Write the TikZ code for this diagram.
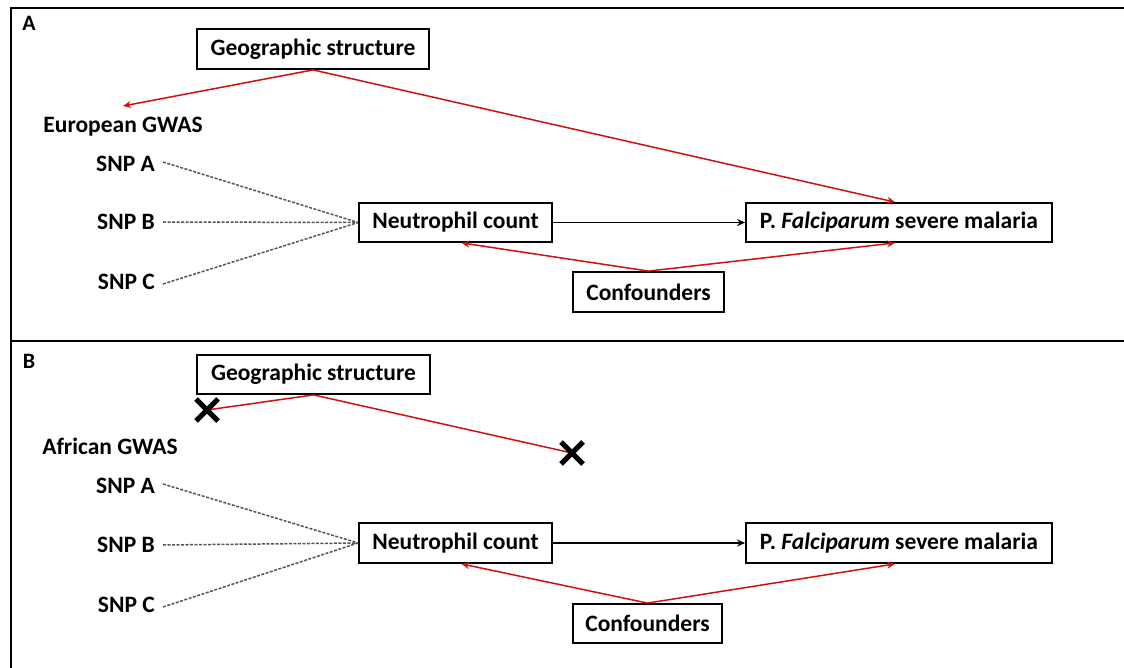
\documentclass[tikz,border=0pt]{standalone}
\usepackage{fontspec}
\setmainfont{Carlito}
\usetikzlibrary{arrows.meta,calc}
\definecolor{redl}{HTML}{D01010}
\definecolor{dashg}{HTML}{555555}
\begin{document}
\begin{tikzpicture}[x=1pt,y=-1pt,
  txt/.style={font=\fontsize{23.5}{28}\selectfont\bfseries, inner sep=0pt},
  boxn/.style={draw, line width=1.8pt, font=\fontsize{23.5}{28}\selectfont\bfseries, inner sep=0pt},
  redarr/.style={draw=redl, line width=1.5pt, -{Stealth[length=8pt,width=7pt]}},
  redline/.style={draw=redl, line width=1.5pt},
  blkarr/.style={draw=black, line width=1.8pt, -{Stealth[length=8pt,width=7pt]}},
  dsh/.style={draw=dashg, line width=1.5pt, dash pattern=on 3pt off 1.5pt},
  frame/.style={line width=2.8pt},
  xmark/.style={line width=5pt},
  panel/.style={font=\fontsize{22}{26}\selectfont\bfseries, inner sep=0pt}
]
\useasboundingbox (0,0) rectangle (1124,668);
% frame
\draw[frame] (11,668) -- (11,8) -- (1124,8);
\draw[frame] (11,341) -- (1124,341);
\node[panel] (pA) at (29,23) {A};
\node[panel] (pB) at (29,361) {B};

% ---------- Panel A ----------
\node[boxn, minimum width=232pt, minimum height=40pt] (geoA) at (313,49) {Geographic structure};
\node[txt] (eurA) at (123,127) {European GWAS};
\node[txt, anchor=east] (snpAa) at (155,164) {SNP A};
\node[txt, anchor=east] (snpBa) at (155,222) {SNP B};
\node[txt, anchor=east] (snpCa) at (155,282) {SNP C};
\node[boxn, minimum width=193pt, minimum height=39pt] (neuA) at (455.5,222.5) {Neutrophil count};
\node[boxn, minimum width=306pt, minimum height=39pt] (malA) at (899,222.5) {P. \textit{Falciparum} severe malaria};
\node[boxn, minimum width=151pt, minimum height=40pt] (confA) at (648.5,292) {Confounders};
\coordinate (eurTip) at (123,106);

\draw[redarr] (geoA.south) -- (eurTip);
\draw[redarr] (geoA.south) -- ($(malA.north)+(-4,0)$);
\draw[redarr] (confA.north) -- ($(neuA.south)+(6,0)$);
\draw[redarr] (confA.north) -- ($(malA.south)+(-4,0)$);
\draw[blkarr] (neuA.east) -- (malA.west);
\draw[dsh] ($(snpAa.east)+(8,-2)$) -- (neuA.west);
\draw[dsh] ($(snpBa.east)+(8,0)$) -- (neuA.west);
\draw[dsh] ($(snpCa.east)+(8,2)$) -- (neuA.west);

% ---------- Panel B ----------
\node[boxn, minimum width=233pt, minimum height=39pt] (geoB) at (313.5,374.5) {Geographic structure};
\node[txt] (afrB) at (110,446) {African GWAS};
\node[txt, anchor=east] (snpAb) at (155,486) {SNP A};
\node[txt, anchor=east] (snpBb) at (155,545) {SNP B};
\node[txt, anchor=east] (snpCb) at (155,605) {SNP C};
\node[boxn, minimum width=193pt, minimum height=40pt] (neuB) at (455.5,543) {Neutrophil count};
\node[boxn, minimum width=306pt, minimum height=40pt] (malB) at (899,543) {P. \textit{Falciparum} severe malaria};
\node[boxn, minimum width=149pt, minimum height=39pt] (confB) at (647.5,623.5) {Confounders};
\coordinate (x1) at (207,410);
\coordinate (x2) at (572,453);

\draw[redline] (geoB.south) -- (x1);
\draw[redline] (geoB.south) -- (x2);
\draw[xmark] ($(x1)+(-11,-11)$) -- ($(x1)+(11,11)$) ($(x1)+(-11,11)$) -- ($(x1)+(11,-11)$);
\draw[xmark] ($(x2)+(-11,-11)$) -- ($(x2)+(11,11)$) ($(x2)+(-11,11)$) -- ($(x2)+(11,-11)$);
\draw[redarr] (confB.north) -- ($(neuB.south)+(6,0)$);
\draw[redarr] (confB.north) -- ($(malB.south)+(-4,0)$);
\draw[blkarr] (neuB.east) -- (malB.west);
\draw[dsh] ($(snpAb.east)+(8,-2)$) -- (neuB.west);
\draw[dsh] ($(snpBb.east)+(8,0)$) -- (neuB.west);
\draw[dsh] ($(snpCb.east)+(8,2)$) -- (neuB.west);
\end{tikzpicture}
\end{document}
